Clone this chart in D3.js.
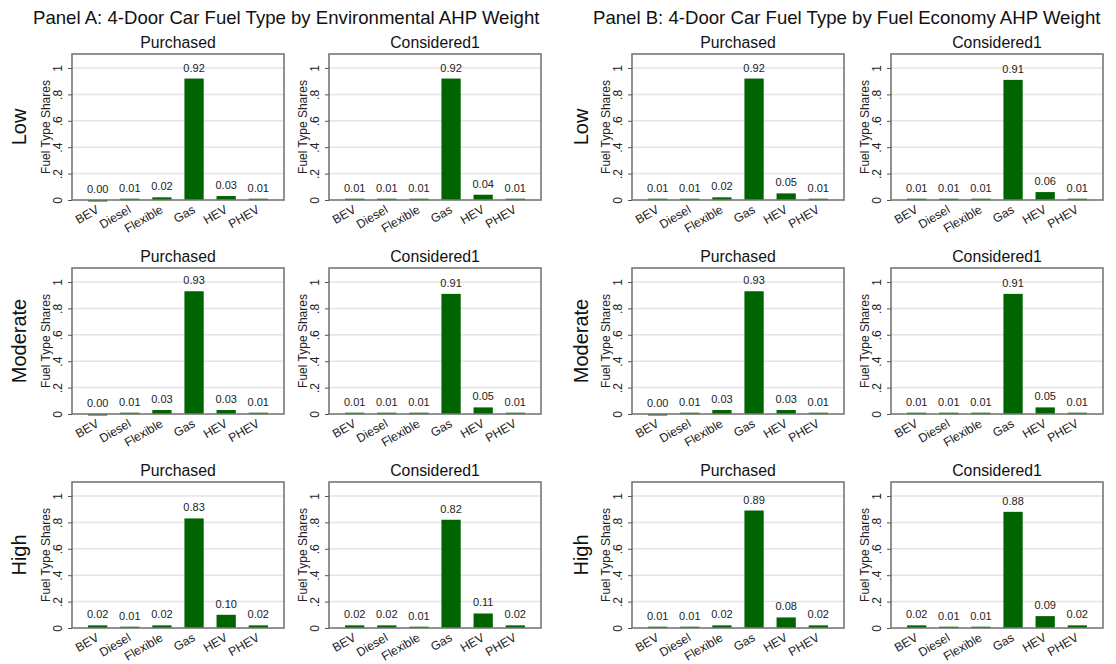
<!DOCTYPE html>
<html><head><meta charset="utf-8">
<script src="https://cdn.jsdelivr.net/npm/d3@7"></script>
<style>body{margin:0;background:#fff;} text{font-family:"Liberation Sans",Arial,sans-serif;}</style>
</head><body><svg id="c" width="1116" height="664"></svg>
<script>
const categories = ["BEV","Diesel","Flexible","Gas","HEV","PHEV"];
const panelTitles = ["Panel A: 4-Door Car Fuel Type by Environmental AHP Weight","Panel B: 4-Door Car Fuel Type by Fuel Economy AHP Weight"];
const rowLabels = ["Low","Moderate","High"];
const subTitles = ["Purchased","Considered1"];
const yTicks = [0,0.2,0.4,0.6,0.8,1];
const yTickLabels = ["0",".2",".4",".6",".8","1"];
// Panel A (Environmental)
const envLowPurchased = [0.00,0.01,0.02,0.92,0.03,0.01];
const envLowConsidered = [0.01,0.01,0.01,0.92,0.04,0.01];
const envModPurchased = [0.00,0.01,0.03,0.93,0.03,0.01];
const envModConsidered = [0.01,0.01,0.01,0.91,0.05,0.01];
const envHighPurchased = [0.02,0.01,0.02,0.83,0.10,0.02];
const envHighConsidered = [0.02,0.02,0.01,0.82,0.11,0.02];
// Panel B (Fuel economy)
const fuelLowPurchased = [0.01,0.01,0.02,0.92,0.05,0.01];
const fuelLowConsidered = [0.01,0.01,0.01,0.91,0.06,0.01];
const fuelModPurchased = [0.00,0.01,0.03,0.93,0.03,0.01];
const fuelModConsidered = [0.01,0.01,0.01,0.91,0.05,0.01];
const fuelHighPurchased = [0.01,0.01,0.02,0.89,0.08,0.02];
const fuelHighConsidered = [0.02,0.01,0.01,0.88,0.09,0.02];

const panels = [
  [[envLowPurchased,envLowConsidered],[envModPurchased,envModConsidered],[envHighPurchased,envHighConsidered]],
  [[fuelLowPurchased,fuelLowConsidered],[fuelModPurchased,fuelModConsidered],[fuelHighPurchased,fuelHighConsidered]]
];

const svg = d3.select("#c");
const colLeft = [[72,329],[632,891]];
const rowTop = [54,268,482];
const W = 212, H = 146;
const panelTitleX = [33,593];
const rowLabelX = [26,588];
const green = "#006400";

panelTitles.forEach((t,p)=>{
  svg.append("text").attr("x",panelTitleX[p]).attr("y",24).attr("font-size",18.6).attr("fill","#111").text(t);
});

const y = d3.scaleLinear().domain([0,1.106]).range([H,0]);
const x = d3.scaleBand().domain(categories).range([0,W]).paddingInner(0.4).paddingOuter(0.5);

panels.forEach((rows,p)=>{
  rows.forEach((pair,r)=>{
    svg.append("text").attr("transform",`translate(${rowLabelX[p]},${rowTop[r]+H/2}) rotate(-90)`)
      .attr("text-anchor","middle").attr("font-size",20).attr("fill","#111").text(rowLabels[r]);
    pair.forEach((vals,c)=>{
      const g = svg.append("g").attr("transform",`translate(${colLeft[p][c]},${rowTop[r]})`);
      g.append("rect").attr("width",W).attr("height",H).attr("fill","#fff");
      // grid
      g.selectAll("line.grid").data(yTicks.slice(1)).join("line")
        .attr("x1",0).attr("x2",W).attr("y1",d=>y(d)).attr("y2",d=>y(d))
        .attr("stroke","#e4e4e4").attr("stroke-width",1.5);
      // bars
      g.selectAll("rect.bar").data(vals).join("rect").attr("class","bar")
        .attr("x",(d,i)=>x(categories[i])).attr("width",x.bandwidth())
        .attr("y",d=>y(d)).attr("height",d=>Math.max(1.5,H-y(d)))
        .attr("fill",green);
      // value labels
      g.selectAll("text.val").data(vals).join("text")
        .attr("x",(d,i)=>x(categories[i])+x.bandwidth()/2).attr("y",d=>y(d)-7)
        .attr("text-anchor","middle").attr("font-size",11).attr("fill","#222")
        .text(d=>d.toFixed(2));
      // frame
      g.append("rect").attr("width",W).attr("height",H).attr("fill","none").attr("stroke","#777").attr("stroke-width",1.6);
      // y axis
      const ya = g.append("g").call(d3.axisLeft(y).tickValues(yTicks).tickSize(4).tickFormat((d,i)=>yTickLabels[i]));
      ya.select(".domain").remove();
      ya.selectAll("line").attr("stroke","#555");
      ya.selectAll("text").attr("font-size",12).attr("fill","#222")
        .attr("x",-10).attr("y",0).attr("dy","0")
        .attr("transform","rotate(-90,-10,0)")
        .attr("text-anchor","middle");
      g.append("text").attr("transform",`translate(-22,${H/2}) rotate(-90)`)
        .attr("text-anchor","middle").attr("font-size",12).attr("fill","#222").text("Fuel Type Shares");
      // x axis
      const xa = g.append("g").attr("transform",`translate(0,${H})`).call(d3.axisBottom(x).tickSize(0));
      xa.select(".domain").remove();
      xa.selectAll("text").attr("font-size",12.2).attr("fill","#222")
        .attr("text-anchor","end").attr("dy","0").attr("y",0)
        .attr("transform","translate(2,12) rotate(-30)");
      // subtitle
      g.append("text").attr("x",W/2).attr("y",-6).attr("text-anchor","middle").attr("font-size",15.8).attr("fill","#111").text(subTitles[c]);
    });
  });
});
</script></body></html>
